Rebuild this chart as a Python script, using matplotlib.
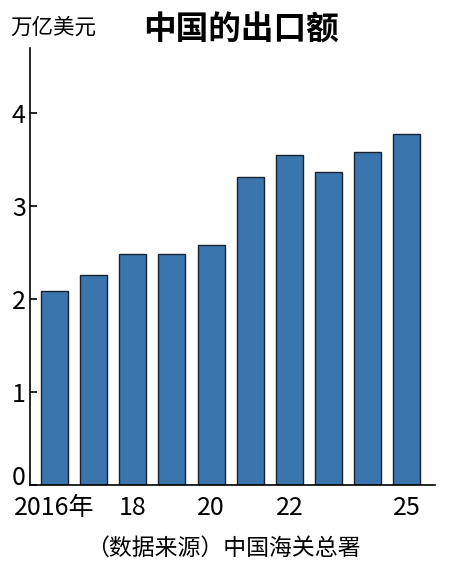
import numpy as np
from matplotlib import pyplot as plt
from matplotlib import transforms

years = [2016, 2017, 2018, 2019, 2020, 2021, 2022, 2023, 2024, 2025]
exports = [2.09, 2.26, 2.48, 2.49, 2.58, 3.31, 3.55, 3.37, 3.58, 3.78]  # 万亿美元
xtick_years = [2016, 2018, 2020, 2022, 2025]
xtick_labels = ['2016年', '18', '20', '22', '25']
yticks = [0, 1, 2, 3, 4]

narrow = ['Liberation Sans Narrow', 'Noto Sans CJK SC', 'DejaVu Sans']
cjk = ['Noto Sans CJK SC', 'DejaVu Sans']

fig = plt.figure(figsize=(4.5, 5.69), dpi=100)
ax = fig.add_axes([0.0667, 0.1476, 0.9, 0.768])

ax.bar(years, exports, width=0.69, color='#3a75ad', edgecolor='#1a2230', linewidth=1.0)

ax.set_xlim(2015.375, 2025.72)
ax.set_ylim(0, 4.70)
ax.spines['top'].set_visible(False)
ax.spines['right'].set_visible(False)
ax.spines['left'].set_linewidth(1.2)
ax.spines['bottom'].set_linewidth(1.2)

ax.set_yticks(yticks)
ax.set_yticklabels([str(v) for v in yticks], family=narrow, fontsize=18)
ax.tick_params(axis='y', direction='in', length=5, width=1.2, pad=3)
# "0" sits a little above the baseline in the original
zero_lbl = ax.get_yticklabels()[0]
zero_lbl.set_transform(zero_lbl.get_transform() +
                       transforms.ScaledTranslation(0, 10 / 100, fig.dpi_scale_trans))

ax.set_xticks(xtick_years)
ax.set_xticklabels(xtick_labels, family=narrow, fontsize=18)
ax.tick_params(axis='x', length=0, pad=7)

fig.text(0.022, 0.951, '万亿美元', family=cjk, fontsize=15.5, va='center', ha='left')
fig.text(0.535, 0.948, '中国的出口额', family=cjk, fontsize=23.5, fontweight='bold',
         va='center', ha='center')
fig.text(0.497, 0.036, '（数据来源）中国海关总署', family=cjk, fontsize=16.5,
         va='center', ha='center')

fig.savefig('out.png', dpi=100)
